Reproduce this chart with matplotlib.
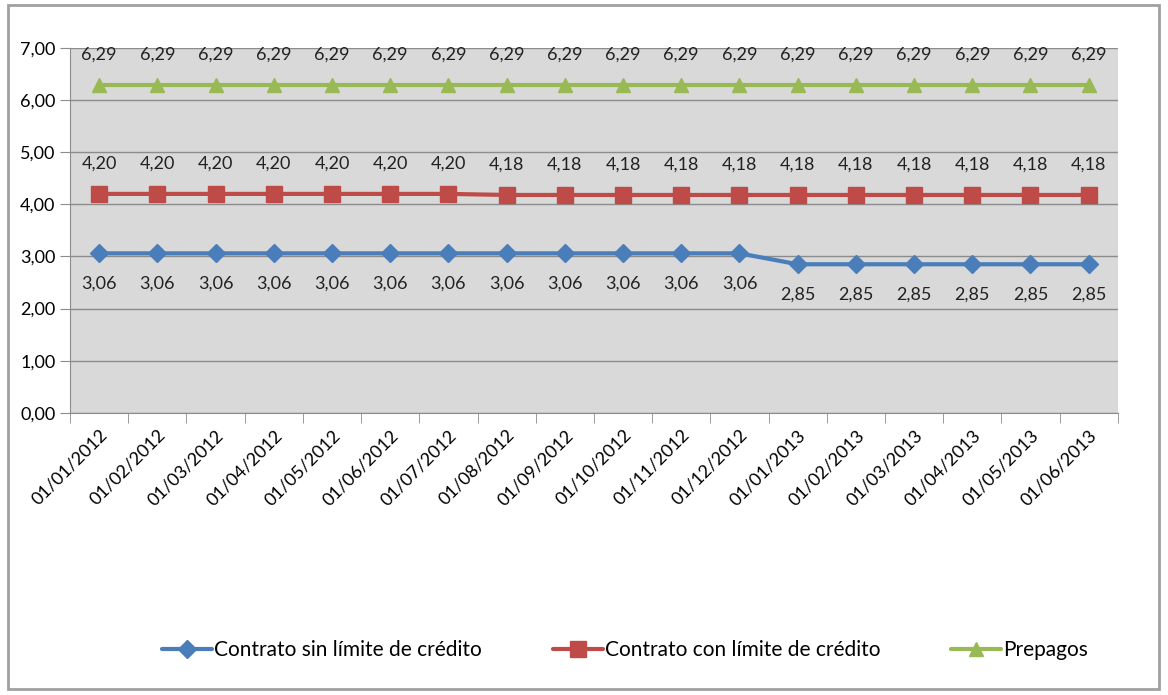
import matplotlib
matplotlib.use("Agg")
import matplotlib.pyplot as plt
from matplotlib.ticker import FuncFormatter, FixedLocator
from matplotlib.patches import Rectangle

plt.rcParams['font.family'] = ['Lato', 'DejaVu Sans']

# data
fechas = ["01/01/2012", "01/02/2012", "01/03/2012", "01/04/2012", "01/05/2012",
          "01/06/2012", "01/07/2012", "01/08/2012", "01/09/2012", "01/10/2012",
          "01/11/2012", "01/12/2012", "01/01/2013", "01/02/2013", "01/03/2013",
          "01/04/2013", "01/05/2013", "01/06/2013"]
sin_limite = [3.06] * 12 + [2.85] * 6
con_limite = [4.20] * 7 + [4.18] * 11
prepagos = [6.29] * 18

series = [
    ("Contrato sin límite de crédito", sin_limite, "#4a7ebb", "D", 9, -1),
    ("Contrato con límite de crédito", con_limite, "#be4b48", "s", 12, 1),
    ("Prepagos", prepagos, "#98b954", "^", 10, 1),
]

fig = plt.figure(figsize=(11.68, 6.95), dpi=100)
ax = fig.add_axes([0.06, 0.406, 0.897, 0.525])
ax.set_facecolor("#d9d9d9")

x = list(range(len(fechas)))
for name, vals, color, mk, ms, side in series:
    ax.plot(x, vals, color=color, lw=3, marker=mk, ms=ms, label=name,
            solid_capstyle="round")
    for xi, v in zip(x, vals):
        ax.annotate(f"{v:.2f}".replace(".", ","), (xi, v),
                    xytext=(0, 22 * side), textcoords="offset points",
                    ha="center", va="center", fontsize=13, color="#222222")

ax.set_xlim(-0.5, len(fechas) - 0.5)
ax.set_ylim(0, 7)
ax.set_yticks(range(0, 8))
ax.yaxis.set_major_formatter(FuncFormatter(lambda v, p: f"{v:.2f}".replace(".", ",")))
ax.yaxis.grid(True, color="#8c8c8c", lw=1)
ax.set_axisbelow(True)

ax.set_xticks(x)
ax.set_xticklabels(fechas, rotation=45, ha="right", rotation_mode="anchor", fontsize=13)
ax.tick_params(axis="x", which="major", length=0, pad=10)
ax.xaxis.set_minor_locator(FixedLocator([i - 0.5 for i in range(len(fechas) + 1)]))
ax.tick_params(axis="x", which="minor", length=7, color="#8c8c8c")
ax.tick_params(axis="y", length=7, color="#8c8c8c", labelsize=13)

for s in ["top", "right"]:
    ax.spines[s].set_visible(False)
ax.spines["left"].set_color("#8c8c8c")
ax.spines["bottom"].set_color("#8c8c8c")

fig.legend(loc="center", bbox_to_anchor=(0.535, 0.065), ncol=3, frameon=False,
           fontsize=15, handlelength=2.4, handletextpad=0.1, columnspacing=3.4)

# outer frame
fig.patches.append(Rectangle((0.007, 0.008), 0.985, 0.985, transform=fig.transFigure,
                             fill=False, edgecolor="#a0a0a0", lw=2))

fig.savefig("out.png", dpi=100)
